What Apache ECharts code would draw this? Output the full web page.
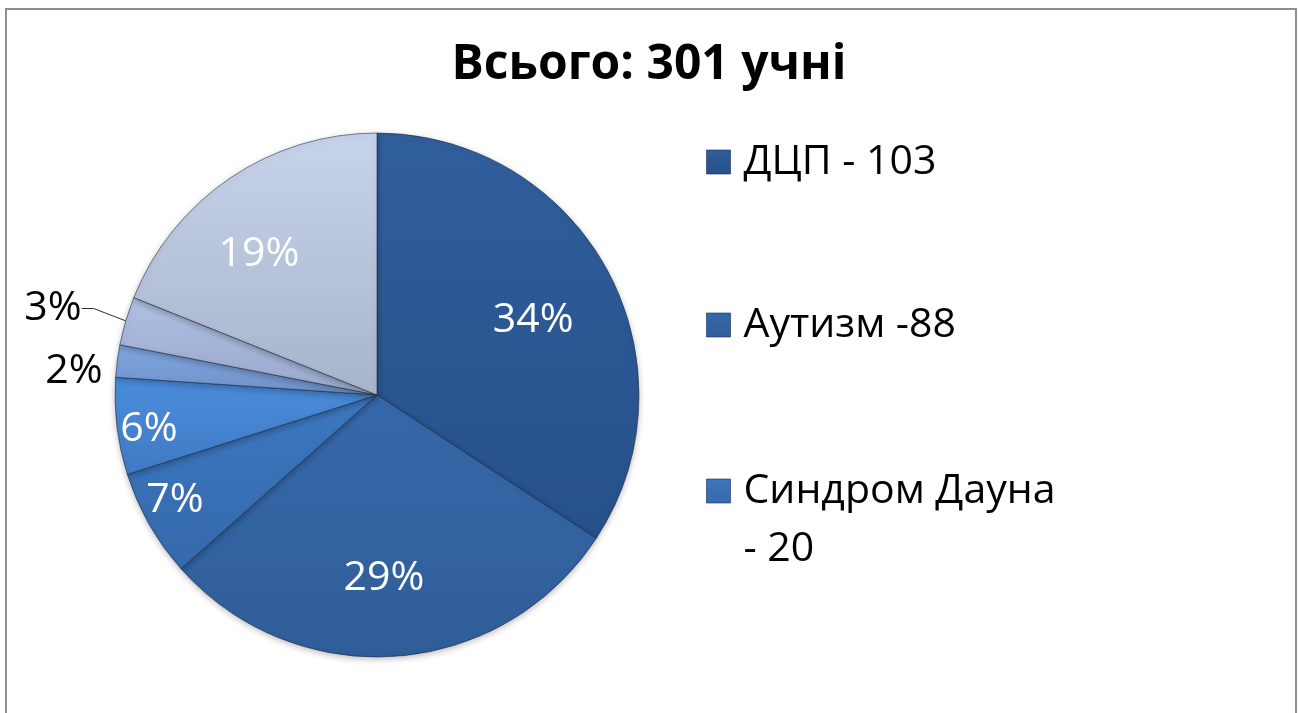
<!DOCTYPE html>
<html>
<head>
<meta charset="utf-8">
<script src="https://cdn.jsdelivr.net/npm/echarts@6/dist/echarts.min.js"></script>
<style>
html,body{margin:0;padding:0;background:#fff;}
#chart{width:1298px;height:713px;}
</style>
</head>
<body>
<div id="chart"></div>
<script>
// ---- data ----
const titleText = 'Всього: 301 учні';
const categories = ['ДЦП - 103', 'Аутизм -88', 'Синдром Дауна - 20', 'Категорія 4', 'Категорія 5', 'Категорія 6', 'Категорія 7'];
const values = [103, 88, 20, 18, 6, 9, 57];
const legendItems = ['ДЦП - 103', 'Аутизм -88', 'Синдром Дауна - 20'];

// ---- styles ----
const sliceTop =    ['#2f5f9c', '#3669aa', '#3c77c0', '#4a8cda', '#7fa6e0', '#aec0e3', '#c6d3ea'];
const sliceBottom = ['#27508a', '#2f5d98', '#3569ab', '#3f7bc4', '#6f92c8', '#98a9cb', '#a7b4cc'];
const labelInside = [true, true, true, true, false, false, true];
const labelRadius = [0.66, 0.70, 0.87, 0.88, 1.16, 1.28, 0.70];
const labelShift =  [-3, -2, -2, 1.6, 3, 1.5, 6];

const CX = 377, CY = 395, R = 262;
const total = values.reduce((a, b) => a + b, 0);
const cum = [];
values.reduce((acc, v, i) => { cum[i] = acc; return acc + v; }, 0);

const FONT = '"Open Sans", "Noto Sans", sans-serif';

const data = values.map((v, i) => ({
  name: categories[i],
  value: v,
  itemStyle: {
    color: new echarts.graphic.LinearGradient(0, 0, 0, 1, [
      { offset: 0, color: sliceTop[i] },
      { offset: 1, color: sliceBottom[i] }
    ])
  },
  label: labelInside[i]
    ? { position: 'inside', color: '#ffffff' }
    : { position: 'outside', color: '#000000' },
  labelLine: { show: i === 5, length: 12, length2: 12, lineStyle: { color: '#303030', width: 1 } }
}));

const chart = echarts.init(document.getElementById('chart'), null, { renderer: 'canvas' });

const legendBase = {
  orient: 'vertical',
  left: 706,
  padding: 0,
  itemWidth: 24,
  itemHeight: 24,
  icon: 'rect',
  selectedMode: false,
  textStyle: { fontFamily: FONT, fontSize: 41, color: '#000', lineHeight: 58, padding: [0, 0, 0, 8] },
  itemStyle: { borderColor: 'rgba(20,40,80,0.6)', borderWidth: 1 }
};

chart.setOption({
  backgroundColor: '#ffffff',
  animation: false,
  title: {
    text: titleText,
    left: 'center',
    top: 36,
    textStyle: { fontFamily: FONT, fontWeight: 'bold', fontSize: 48, color: '#000' }
  },
  legend: [
    Object.assign({}, legendBase, { top: 162 - 29, data: [legendItems[0]] }),
    Object.assign({}, legendBase, { top: 325 - 29, data: [legendItems[1]] }),
    Object.assign({}, legendBase, { top: 491 - 87, data: [legendItems[2]],
      formatter: n => '\n' + n.replace('Дауна ', 'Дауна\n') })
  ],
  graphic: [{
    type: 'rect',
    silent: true,
    shape: { x: 6, y: 9, width: 1290, height: 760 },
    style: { fill: 'none', stroke: '#8e8e8e', lineWidth: 2 },
    z: 100
  }],
  series: [{
    type: 'pie',
    center: [CX, CY],
    radius: [0, R],
    startAngle: 90,
    clockwise: true,
    avoidLabelOverlap: false,
    percentPrecision: 0,
    itemStyle: {
      borderColor: 'rgba(25,35,60,0.55)',
      borderWidth: 1,
      shadowBlur: 6,
      shadowColor: 'rgba(0,0,0,0.25)',
      shadowOffsetY: 2
    },
    label: {
      formatter: '{d}%',
      fontFamily: FONT,
      fontSize: 41
    },
    labelLayout: function (p) {
      const i = p.dataIndex;
      const mid = (cum[i] + values[i] / 2) / total;
      const ang = (90 - mid * 360 + labelShift[i]) * Math.PI / 180;
      const r = R * labelRadius[i];
      return {
        x: CX + r * Math.cos(ang),
        y: CY - r * Math.sin(ang),
        align: 'center',
        verticalAlign: 'middle'
      };
    },
    data: data
  }]
});
</script>
</body>
</html>
